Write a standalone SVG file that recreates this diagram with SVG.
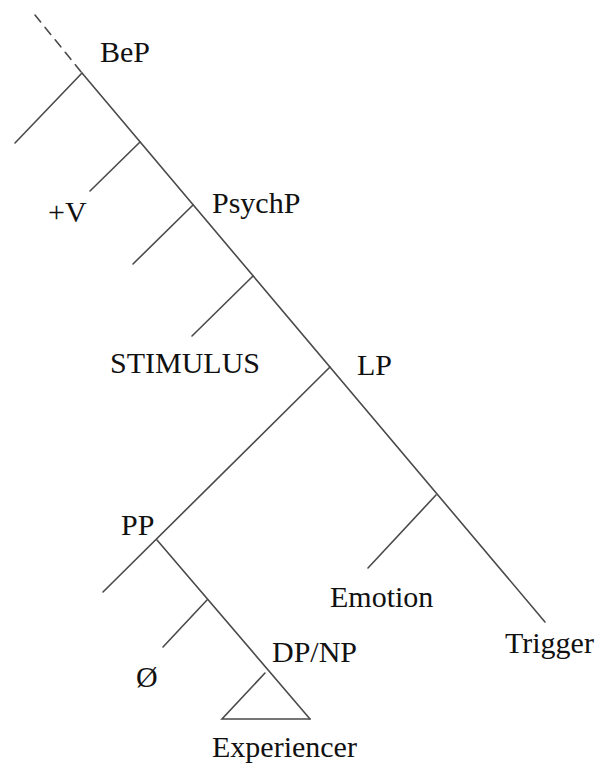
<svg xmlns="http://www.w3.org/2000/svg" width="598" height="764" viewBox="0 0 598 764">
<style>
.l{stroke:#4a4a4a;stroke-width:1.6;fill:none;stroke-linecap:round}
.d{stroke-dasharray:9 7}
.t{font-family:'Liberation Serif','Times New Roman',serif;font-size:30px;fill:#111}
</style>
<rect width="598" height="764" fill="#fff"/>
<g id="connectors">
<line class="l d" x1="35" y1="15" x2="82" y2="73"/>
<line class="l" x1="82" y1="73" x2="545" y2="622"/>
<line class="l" x1="82" y1="73" x2="15" y2="143"/>
<line class="l" x1="140" y1="142" x2="90" y2="191"/>
<line class="l" x1="193" y1="205" x2="133" y2="264"/>
<line class="l" x1="253" y1="276" x2="192" y2="336"/>
<line class="l" x1="330" y1="367" x2="103" y2="592"/>
<line class="l" x1="436" y1="495" x2="368" y2="568"/>
<line class="l" x1="157" y1="540" x2="310" y2="719"/>
<line class="l" x1="207" y1="600" x2="163" y2="647"/>
<polyline class="l" points="265,673 222,719 310,719"/>
</g>
<g id="BeP"><text class="t" x="100" y="62">BeP</text></g>
<g id="V"><text class="t" x="48" y="222">+V</text></g>
<g id="PsychP"><text class="t" x="212" y="213">PsychP</text></g>
<g id="STIMULUS"><text class="t" x="110" y="373">STIMULUS</text></g>
<g id="LP"><text class="t" x="357" y="375">LP</text></g>
<g id="PP"><text class="t" x="121" y="535">PP</text></g>
<g id="Emotion"><text class="t" x="330" y="607">Emotion</text></g>
<g id="Null"><text class="t" x="136" y="687">Ø</text></g>
<g id="DPNP"><text class="t" x="272" y="662">DP/NP</text></g>
<g id="Trigger"><text class="t" x="505" y="653">Trigger</text></g>
<g id="Experiencer"><text class="t" x="212" y="757">Experiencer</text></g>
</svg>
